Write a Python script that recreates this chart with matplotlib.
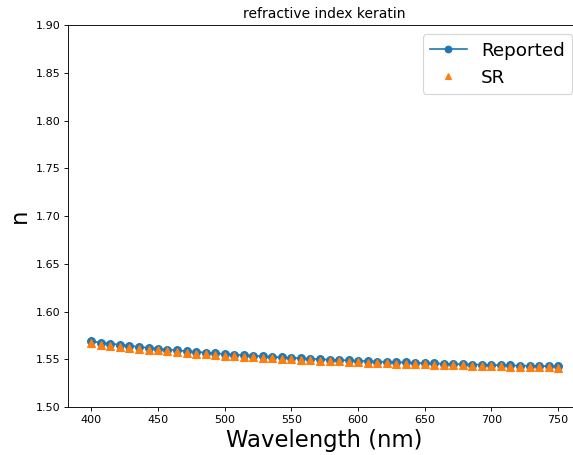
import numpy as np
import matplotlib
matplotlib.use("Agg")
import matplotlib.pyplot as plt

wavelength = [400.0, 407.1, 414.3, 421.4, 428.6, 435.7, 442.9, 450.0, 457.1, 464.3,
              471.4, 478.6, 485.7, 492.9, 500.0, 507.1, 514.3, 521.4, 528.6, 535.7,
              542.9, 550.0, 557.1, 564.3, 571.4, 578.6, 585.7, 592.9, 600.0, 607.1,
              614.3, 621.4, 628.6, 635.7, 642.9, 650.0, 657.1, 664.3, 671.4, 678.6,
              685.7, 692.9, 700.0, 707.1, 714.3, 721.4, 728.6, 735.7, 742.9, 750.0]

n_reported = [1.5688, 1.5675, 1.5663, 1.5652, 1.5641, 1.5630, 1.5620, 1.5611, 1.5602, 1.5593,
              1.5585, 1.5577, 1.5570, 1.5562, 1.5556, 1.5549, 1.5543, 1.5537, 1.5531, 1.5525,
              1.5520, 1.5515, 1.5510, 1.5505, 1.5500, 1.5496, 1.5492, 1.5488, 1.5484, 1.5480,
              1.5476, 1.5473, 1.5469, 1.5466, 1.5463, 1.5459, 1.5456, 1.5453, 1.5451, 1.5448,
              1.5445, 1.5443, 1.5440, 1.5438, 1.5435, 1.5433, 1.5431, 1.5429, 1.5427, 1.5425]

n_sr = [1.5666, 1.5654, 1.5642, 1.5631, 1.5621, 1.5611, 1.5601, 1.5592, 1.5583, 1.5575,
        1.5567, 1.5559, 1.5552, 1.5545, 1.5539, 1.5532, 1.5526, 1.5520, 1.5515, 1.5509,
        1.5504, 1.5499, 1.5494, 1.5490, 1.5485, 1.5481, 1.5477, 1.5473, 1.5469, 1.5465,
        1.5462, 1.5458, 1.5455, 1.5452, 1.5449, 1.5446, 1.5443, 1.5440, 1.5437, 1.5435,
        1.5432, 1.5430, 1.5427, 1.5425, 1.5423, 1.5421, 1.5419, 1.5417, 1.5415, 1.5413]

DPI = 80
fig = plt.figure(figsize=(573 / DPI, 455 / DPI), dpi=DPI)
ax = fig.add_axes([0.1187, 0.1055, 0.896, 0.8395])

ax.plot(wavelength, n_reported, 'o-', color='#1f77b4', markersize=7, label='Reported')
ax.plot(wavelength, n_sr, '^', color='#ff7f0e', markersize=7, linestyle='none', label='SR')

ax.set_ylim(1.5, 1.9)
ax.set_title('refractive index keratin', fontsize=12.5)
ax.set_xlabel('Wavelength (nm)', fontsize=20.5)
ax.set_ylabel('n', fontsize=20.5)
ax.legend(fontsize=16.5, loc='upper right', markerscale=6 / 7)

fig.savefig('out.png', dpi=DPI)
